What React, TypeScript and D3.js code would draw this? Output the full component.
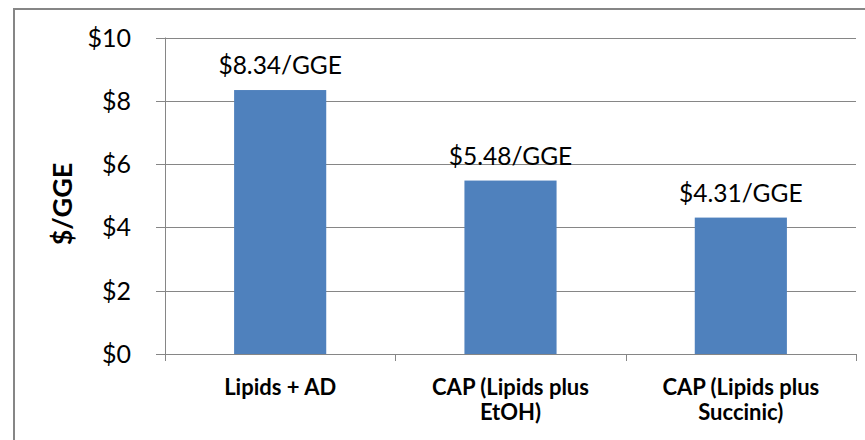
import React from "react";
import * as d3 from "d3";

const categories: string[][] = [
  ["Lipids + AD"],
  ["CAP (Lipids plus", "EtOH)"],
  ["CAP (Lipids plus", "Succinic)"],
];
const values: number[] = [8.34, 5.48, 4.31];
const valueLabels: string[] = ["$8.34/GGE", "$5.48/GGE", "$4.31/GGE"];
const yTicks: number[] = [0, 2, 4, 6, 8, 10];
const yTitle = "$/GGE";

const W = 865;
const H = 440;
const plot = { left: 165, right: 856, top: 37.5, bottom: 354 };
const FONT = "Lato, 'Open Sans', sans-serif";
const GRID = "#868686";

export default function App() {
  const x = d3
    .scaleBand<number>()
    .domain(categories.map((_, i) => i))
    .range([plot.left, plot.right])
    .paddingInner(0.6)
    .paddingOuter(0.3);
  const band = d3
    .scaleBand<number>()
    .domain(categories.map((_, i) => i))
    .range([plot.left, plot.right]);
  const y = d3.scaleLinear().domain([0, 10]).range([plot.bottom, plot.top]);

  const catTicks = d3.range(categories.length + 1).map(
    (i) => plot.left + i * band.step()
  );

  return (
    <svg
      width={W}
      height={H}
      style={{ position: "absolute", left: 0, top: 0, background: "#fff" }}
      fontFamily={FONT}
    >
      <rect x={14} y={9} width={W + 10} height={H + 10} fill="#fff" stroke="#868686" strokeWidth={2} />
      {yTicks.map((t) => (
        <g key={t}>
          <line
            x1={plot.left - 9}
            x2={plot.right}
            y1={Math.round(y(t)) + 0.5}
            y2={Math.round(y(t)) + 0.5}
            stroke={GRID}
            strokeWidth={1}
          />
          <text x={131} y={y(t) + 9} textAnchor="end" fontSize={25} fill="#000">
            {"$" + t}
          </text>
        </g>
      ))}
      <line x1={plot.left + 0.5} x2={plot.left + 0.5} y1={plot.top} y2={plot.bottom + 7} stroke={GRID} />
      {catTicks.map((cx, i) => (
        <line key={i} x1={Math.round(cx) + 0.5} x2={Math.round(cx) + 0.5} y1={plot.bottom} y2={plot.bottom + 7} stroke={GRID} />
      ))}
      {values.map((v, i) => (
        <rect key={i} x={x(i)} y={y(v)} width={x.bandwidth()} height={y(0) - y(v)} fill="#4F81BD" />
      ))}
      {values.map((v, i) => (
        <text
          key={i}
          x={(x(i) as number) + x.bandwidth() / 2}
          y={y(v) - 16}
          textAnchor="middle"
          fontSize={24.5}
          fill="#000"
        >
          {valueLabels[i]}
        </text>
      ))}
      {categories.map((lines, i) => (
        <text
          key={i}
          x={(band(i) as number) + band.bandwidth() / 2}
          y={395}
          textAnchor="middle"
          fontSize={22}
          fontWeight="bold"
          fill="#000"
        >
          {lines.map((l, j) => (
            <tspan key={j} x={(band(i) as number) + band.bandwidth() / 2} dy={j === 0 ? 0 : 25}>
              {l}
            </tspan>
          ))}
        </text>
      ))}
      <text
        transform={`translate(72,204) rotate(-90)`}
        textAnchor="middle"
        fontSize={27}
        fontWeight="bold"
        fill="#000"
      >
        {yTitle}
      </text>
    </svg>
  );
}
